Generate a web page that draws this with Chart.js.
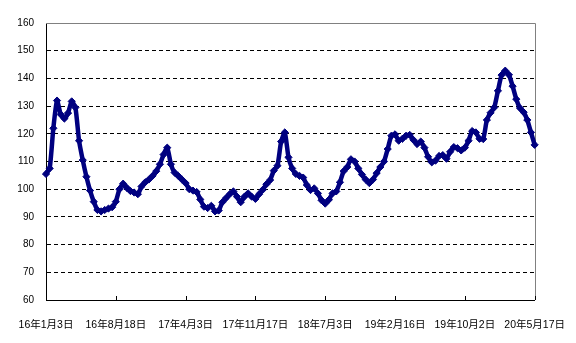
<!DOCTYPE html>
<html>
<head>
<meta charset="utf-8">
<script src="https://cdn.jsdelivr.net/npm/chart.js@4"></script>
<style>
  html, body { margin: 0; padding: 0; background: #fff; }
</style>
</head>
<body>
<canvas id="chart" width="576" height="343"></canvas>
<script>
// x axis: days since 16年1月3日, one reading every 12 days
const tickLabels = ["16年1月3日", "16年8月18日", "17年4月3日", "17年11月17日", "18年7月3日", "19年2月16日", "19年10月2日", "20年5月17日"];
const tickStep = 228;
const stepDays = 12;
const yTicks = { min: 60, max: 160, step: 10 };

const values = [
  105.5, 107.5, 122, 132, 127, 125.5, 127.5, 131.7, 129.5, 117.5,
  110.5, 104.5, 99.5, 95.5, 92.5, 92, 92.5, 93, 93.5, 95.5,
  100, 102, 100.5, 99.3, 98.8, 98.2, 101, 102.5, 103.5, 104.8,
  106.5, 109, 112.5, 115, 109, 106, 104.8, 103.5, 102.2, 100,
  99.5, 99, 96.3, 93.7, 93.2, 94, 92, 92.3, 95.3, 96.8,
  98.2, 99.2, 97.3, 95.3, 97.3, 98.5, 97.3, 96.5, 98.2, 99.8,
  101.8, 103.3, 106.7, 108.5, 117.2, 120.5, 111.5, 107.5, 105.5, 104.8,
  104.2, 101.5, 99.7, 100.3, 98.5, 96, 94.8, 96.2, 98.5, 99.2,
  102.5, 106.5, 108, 110.8, 110, 107.5, 105.3, 103.5, 102.2, 103.5,
  105.8, 108, 110, 114.5, 119.3, 119.8, 117.5, 118.2, 119.3, 119.6,
  117.8, 116.3, 117.2, 115, 111.7, 109.7, 110.3, 112, 112.3, 111,
  113.5, 115.2, 114.8, 114, 115, 117.5, 121, 120.5, 118.2, 118.1,
  125, 127.6, 129.5, 135.5, 141.2, 142.8, 141.3, 137.2, 132.5, 129.3,
  127.8, 125, 120.5, 116
];

const navy = "#000080";
const font = { family: "'Liberation Sans', Arial, 'Noto Sans CJK JP', sans-serif", size: 10 };

// gray frame on top/right + short inward tick marks on the x axis
const framePlugin = {
  id: "frame",
  beforeDatasetsDraw(chart) {
    const { ctx, chartArea: a, scales: { x } } = chart;
    ctx.save();
    ctx.lineWidth = 1;
    ctx.strokeStyle = "#808080";
    ctx.beginPath();
    ctx.moveTo(a.left, Math.round(a.top) + 0.5);
    ctx.lineTo(Math.round(a.right) + 0.5, Math.round(a.top) + 0.5);
    ctx.lineTo(Math.round(a.right) + 0.5, a.bottom);
    ctx.stroke();
    ctx.strokeStyle = "#000";
    ctx.beginPath();
    x.ticks.forEach((t) => {
      const px = Math.round(x.getPixelForValue(t.value)) + 0.5;
      ctx.moveTo(px, a.bottom);
      ctx.lineTo(px, a.bottom - 4);
    });
    ctx.stroke();
    ctx.restore();
  },
};

new Chart(document.getElementById("chart"), {
  type: "line",
  data: {
    datasets: [{
      data: values.map((v, i) => ({ x: i * stepDays, y: v })),
      borderColor: navy,
      borderWidth: 4.5,
      borderJoinStyle: "round",
      borderCapStyle: "round",
      pointStyle: "rectRot",
      pointRadius: 3.6,
      pointBackgroundColor: navy,
      pointBorderColor: navy,
      pointBorderWidth: 1,
      tension: 0.2,
      clip: false,
    }],
  },
  options: {
    responsive: false,
    animation: false,
    devicePixelRatio: 1,
    layout: { padding: { left: 0, right: 39, top: 23, bottom: 0 } },
    plugins: { legend: { display: false }, tooltip: { enabled: false } },
    scales: {
      x: {
        type: "linear",
        min: 0,
        max: tickStep * (tickLabels.length - 1),
        afterFit: (s) => { s.height = 43; },
        grid: { display: false },
        border: { display: true, color: "#000", width: 1 },
        ticks: {
          stepSize: tickStep,
          autoSkip: false,
          maxRotation: 0,
          padding: 11,
          color: "#000",
          font: { ...font, size: 10.5 },
          callback: (v) => tickLabels[Math.round(v / tickStep)],
        },
      },
      y: {
        min: yTicks.min,
        max: yTicks.max,
        afterFit: (s) => { s.width = 46; },
        grid: {
          drawTicks: false,
          color: (c) => (c.tick && (c.tick.value === yTicks.max || c.tick.value === yTicks.min) ? "rgba(0,0,0,0)" : "#000"),
          lineWidth: 1,
        },
        border: { display: true, color: "#000", width: 1, dash: [4, 3] },
        ticks: { stepSize: yTicks.step, padding: 12, color: "#000", font },
      },
    },
  },
  plugins: [framePlugin],
});
</script>
</body>
</html>
